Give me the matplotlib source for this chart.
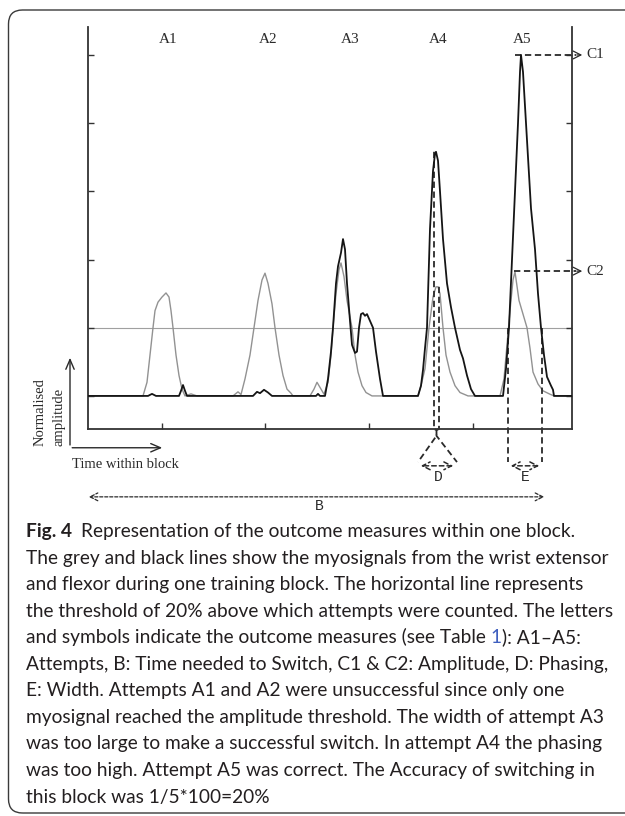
import matplotlib.pyplot as plt
from matplotlib.patches import FancyBboxPatch
from matplotlib.transforms import IdentityTransform

# time axis in arbitrary units: 0 = left frame, 484 = right frame
# amplitude normalised, threshold at 20 %
grey_t = [0, 55, 59, 62, 65, 67, 70, 74, 78, 81, 83, 85, 88, 91, 94, 97, 103, 109,
          145, 150, 153, 157, 162, 165, 167, 170, 174, 177, 180, 184, 187, 191, 195, 199, 203, 205,
          222, 226, 229, 232, 236, 240, 243, 245, 248, 251, 253, 256, 259, 264, 267, 270, 274, 278, 284,
          330, 333, 337, 341, 345, 348, 350, 352, 355, 358, 362, 367, 372, 380,
          412, 416, 419, 422, 425, 427, 431, 435, 439, 442, 445, 450, 455, 462, 466, 484]
grey_v = [0, 0, 0.04, 0.12, 0.2, 0.25, 0.275, 0.29, 0.302, 0.29, 0.25, 0.2, 0.12, 0.06, 0.02, 0, 0.006, 0,
          0, 0.012, 0.004, 0.05, 0.12, 0.18, 0.22, 0.28, 0.34, 0.36, 0.33, 0.27, 0.2, 0.12, 0.06, 0.02, 0.008, 0,
          0, 0.02, 0.04, 0.025, 0.005, 0.04, 0.12, 0.2, 0.3, 0.37, 0.39, 0.35, 0.28, 0.2, 0.12, 0.07, 0.03, 0.01, 0,
          0, 0.03, 0.08, 0.2, 0.29, 0.32, 0.32, 0.3, 0.2, 0.12, 0.07, 0.03, 0.01, 0,
          0, 0.05, 0.15, 0.25, 0.34, 0.364, 0.28, 0.24, 0.2, 0.14, 0.07, 0.035, 0.015, 0.005, 0, 0]

black_t = [0, 60, 64, 68, 91, 93, 95, 97, 99,
           165, 169, 172, 176, 180, 184,
           228, 230, 232, 237, 240, 243, 245, 248, 250, 253, 255, 257, 259, 262, 264, 267, 269, 271, 273,
           275, 277, 279, 282, 285, 288, 292, 295,
           330, 333, 335, 337, 339, 342, 345, 347, 348, 350, 352, 355, 359, 363, 367, 372, 375, 379, 383, 387,
           415, 418, 421, 424, 427, 430, 432, 433, 435, 439, 443, 447, 450, 453, 456, 459, 463, 465, 466, 484]
black_v = [0, 0, 0.006, 0, 0, 0.015, 0.032, 0.015, 0,
           0, 0.012, 0.008, 0.018, 0.01, 0,
           0, 0.006, 0, 0, 0.05, 0.13, 0.2, 0.33, 0.38, 0.42, 0.46, 0.43, 0.33, 0.22, 0.15, 0.126, 0.13, 0.2, 0.24,
           0.243, 0.235, 0.24, 0.22, 0.2, 0.13, 0.05, 0,
           0, 0.03, 0.076, 0.14, 0.2, 0.49, 0.66, 0.71, 0.716, 0.69, 0.6, 0.46, 0.33, 0.26, 0.2, 0.135, 0.11, 0.06, 0.02, 0,
           0, 0.08, 0.2, 0.4, 0.6, 0.8, 0.95, 1.0, 0.95, 0.75, 0.55, 0.43, 0.3, 0.2, 0.12, 0.056, 0.03, 0.018, 0, 0]

threshold = 0.2
attempts = ['A1', 'A2', 'A3', 'A4', 'A5']
attempt_t = [80, 180, 262, 350, 434]
yticks = [0, 0.2, 0.4, 0.6, 0.8, 1.0]
xticks = [74, 177, 281, 385]

c1_amp, c1_start = 1.0, 427      # black peak of A5
c2_amp, c2_start = 0.366, 426    # grey peak of A5
d_black, d_grey = (346, 0.716), (351, 0.32)   # peaks of A4
e_left, e_right = 420, 454       # threshold crossings of A5
b_start, b_end = -2, 459

caption = [
    "The grey and black lines show the myosignals from the wrist extensor",
    "and flexor during one training block. The horizontal line represents",
    "the threshold of 20% above which attempts were counted. The letters",
    None,
    "Attempts, B: Time needed to Switch, C1 & C2: Amplitude, D: Phasing,",
    "E: Width. Attempts A1 and A2 were unsuccessful since only one",
    "myosignal reached the amplitude threshold. The width of attempt A3",
    "was too large to make a successful switch. In attempt A4 the phasing",
    "was too high. Attempt A5 was correct. The Accuracy of switching in",
    "this block was 1/5*100=20%",
]

W, H = 625, 816
fig = plt.figure(figsize=(W / 100, H / 100), dpi=100)
ax = fig.add_axes([88 / W, 1 - 429 / H, 484 / W, 402 / H])
ax.set_xlim(0, 484)
ax.set_ylim(-0.097, 1.082)

ink = '#2a2a2a'
serif = 'Liberation Serif'

ax.axhline(threshold, color='#a0a0a0', lw=0.8, zorder=1)
ax.plot(grey_t, grey_v, color='#929292', lw=1.0, zorder=2)
ax.plot(black_t, black_v, color='#151515', lw=1.3, zorder=3)

for s in ['left', 'right', 'bottom']:
    ax.spines[s].set_color('#333333')
    ax.spines[s].set_linewidth(1.3)
ax.spines['top'].set_visible(False)
ax.set_xticks(xticks)
ax.set_yticks(yticks)
ax.tick_params(direction='in', length=4, width=1, color='#333333', right=True,
               labelleft=False, labelbottom=False)

for lab, t in zip(attempts, attempt_t):
    ax.text(t, 1.044, lab, ha='center', va='center', fontsize=11, family=serif, color=ink)

dash = (0, (3.5, 2))
kw = dict(color=ink, lw=1.3, ls=dash, clip_on=False)
head = 'head_length=0.55,head_width=0.28'

# C1 / C2 amplitude markers
for amp, x0, lab in [(c1_amp, c1_start, 'C1'), (c2_amp, c2_start, 'C2')]:
    ax.plot([x0, 488], [amp, amp], **kw)
    ax.annotate('', xy=(497, amp), xytext=(486, amp),
                arrowprops=dict(arrowstyle='->,' + head, color=ink, lw=0.9), annotation_clip=False)
    ax.text(498, amp, lab, ha='left', va='center', fontsize=11, family=serif, color=ink)

# D phasing
mid = (d_black[0] + d_grey[0]) / 2
ax.plot([d_black[0], d_black[0], mid, mid, 330], [d_black[1], -0.097, -0.1, -0.117, -0.194], **kw)
ax.plot([d_grey[0], d_grey[0], mid, mid, 369], [d_grey[1], -0.097, -0.1, -0.117, -0.194], **kw)
ax.annotate('', xy=(330, -0.205), xytext=(368, -0.205),
            arrowprops=dict(arrowstyle='<->,' + head, color=ink, lw=1.1, ls=(0, (3, 2))),
            annotation_clip=False)
ax.text(350, -0.238, 'D', ha='center', va='center', fontsize=10.5, family='Liberation Mono', color=ink)

# E width
for x in [e_left, e_right]:
    ax.plot([x, x], [threshold, -0.194], **kw)
ax.annotate('', xy=(e_left, -0.205), xytext=(e_right, -0.205),
            arrowprops=dict(arrowstyle='<->,' + head, color=ink, lw=1.1, ls=(0, (3, 2))),
            annotation_clip=False)
ax.text((e_left + e_right) / 2, -0.238, 'E', ha='center', va='center', fontsize=10.5,
        family='Liberation Mono', color=ink)

# B time needed
ax.annotate('', xy=(b_start, -0.296), xytext=(b_end, -0.296),
            arrowprops=dict(arrowstyle='<->,' + head, color=ink, lw=0.9, ls=(0, (2.5, 1.5))),
            annotation_clip=False)
ax.text(231, -0.323, 'B', ha='center', va='center', fontsize=10.5, family='Liberation Mono', color=ink)

# small axis sketch bottom-left
ax.annotate('', xy=(-18, 0.12), xytext=(-18, -0.152),
            arrowprops=dict(arrowstyle='->,head_length=0.7,head_width=0.3', color=ink, lw=1.0),
            annotation_clip=False)
ax.annotate('', xy=(77, -0.152), xytext=(-18.6, -0.152),
            arrowprops=dict(arrowstyle='->,head_length=0.7,head_width=0.3', color=ink, lw=1.0),
            annotation_clip=False)
ax.text(37, -0.2, 'Time within block', ha='center', va='center', fontsize=10.5, family=serif, color=ink)
ax.text(-48, -0.047, 'Normalised', ha='center', va='center', rotation=90, fontsize=10.5,
        family=serif, color=ink)
ax.text(-29, -0.062, 'amplitude', ha='center', va='center', rotation=90, fontsize=10.5,
        family=serif, color=ink)

# panel border
fig.add_artist(FancyBboxPatch((8.5, 3), 650, 803, boxstyle='round,pad=0,rounding_size=14',
                              transform=IdentityTransform(), fill=False, lw=1.0, ec='#3a3a3a'))

# caption, font size fitted so the widest line is about 588 px
renderer = fig.canvas.get_renderer()
cap_font = 'Lato'
widest = 0
for line in caption[:3]:
    probe = fig.text(0, 0, line, fontsize=12, family=cap_font)
    widest = max(widest, probe.get_window_extent(renderer).width)
    probe.remove()
fs = 12 * 588 / widest
cap_col = '#231f20'


def put(x, y, s, **kw):
    t = fig.text(x / W, 1 - y / H, s, ha='left', va='baseline', fontsize=fs,
                 family=cap_font, color=kw.pop('color', cap_col), **kw)
    return x + t.get_window_extent(renderer).width


y0, step = 537, 26.55
x = put(26, y0, 'Fig. 4', weight='bold')
put(x + 9, y0, 'Representation of the outcome measures within one block.')
for i, line in enumerate(caption):
    y = y0 + step * (i + 1)
    if line is None:
        x = put(26, y, 'and symbols indicate the outcome measures (see Table ')
        x = put(x, y, '1', color='#3f5fbf')
        put(x, y, '): A1\u2013A5:')
    else:
        put(26, y, line)

fig.savefig('out.png', dpi=100)
